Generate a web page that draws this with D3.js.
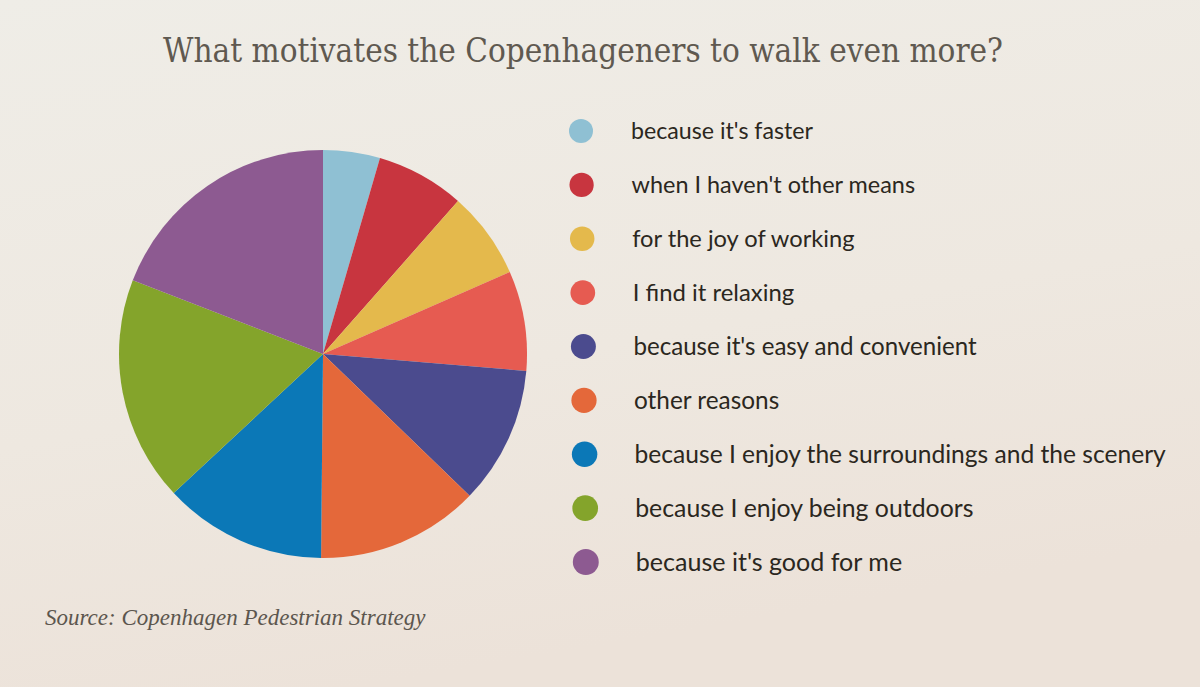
<!DOCTYPE html>
<html>
<head>
<meta charset="utf-8">
<script src="https://cdn.jsdelivr.net/npm/d3@7"></script>
<style>
  html, body { margin: 0; padding: 0; }
  body { width: 1200px; height: 687px; overflow: hidden; }
</style>
</head>
<body>
<svg id="chart" width="1200" height="687"></svg>
<script>
// reasons, in clockwise order starting at 12 o'clock
const reasons = [
  "because it's faster",
  "when I haven't other means",
  "for the joy of working",
  "I find it relaxing",
  "because it's easy and convenient",
  "other reasons",
  "because I enjoy the surroundings and the scenery",
  "because I enjoy being outdoors",
  "because it's good for me"
];

// share in percent
const shares = [4.5, 7.0, 6.9, 7.9, 10.9, 12.9, 12.9, 17.8, 19.1];

const sliceColors = [
  "#8fc0d3", "#c8353f", "#e4b94c", "#e65b51", "#4b4b8e",
  "#e4683a", "#0b78b7", "#84a42b", "#8d5a91"
];

const titleText = "What motivates the Copenhageners to walk even more?";
const sourceText = "Source: Copenhagen Pedestrian Strategy";

const data = reasons.map((r, i) => ({ reason: r, value: shares[i] }));

const svg = d3.select("#chart");

// paper background
const defs = svg.append("defs");
const grad = defs.append("linearGradient")
  .attr("id", "paper")
  .attr("x1", "0").attr("y1", "0")
  .attr("x2", "0.3").attr("y2", "1");
grad.append("stop").attr("offset", "0%").attr("stop-color", "#efede7");
grad.append("stop").attr("offset", "60%").attr("stop-color", "#eee8e0");
grad.append("stop").attr("offset", "100%").attr("stop-color", "#ece2d9");

svg.append("rect")
  .attr("width", 1200).attr("height", 687)
  .attr("fill", "url(#paper)");

// title
svg.append("text")
  .attr("x", 163).attr("y", 62)
  .attr("textLength", 840)
  .attr("lengthAdjust", "spacingAndGlyphs")
  .style("font-family", "'DejaVu Serif', 'Liberation Serif', serif")
  .style("font-size", "33px")
  .style("fill", "#5f5950")
  .text(titleText);

// pie
const radius = 204;
const pie = d3.pie().value(d => d.value).sort(null);
const arc = d3.arc().innerRadius(0).outerRadius(radius);

const color = d3.scaleOrdinal().domain(reasons).range(sliceColors);

const g = svg.append("g").attr("transform", "translate(323,354)");
g.selectAll("path")
  .data(pie(data))
  .join("path")
  .attr("d", arc)
  .attr("fill", d => color(d.data.reason));

// legend (the photo is slightly skewed: lower rows look a bit bigger)
const y = d3.scalePoint()
  .domain(reasons)
  .range([131, 562]);
const grow = d3.scaleLinear().domain([0, reasons.length - 1]).range([1, 1.08]);

const legend = svg.append("g");
const rows = legend.selectAll("g")
  .data(reasons)
  .join("g")
  .attr("transform", (d, i) => `translate(${581 + i * 0.6},${y(d)})`);

rows.append("circle")
  .attr("r", (d, i) => 12 * grow(i))
  .attr("fill", d => color(d));

rows.append("text")
  .attr("x", 50)
  .attr("dy", "0.35em")
  .style("font-family", "Lato, 'Open Sans', sans-serif")
  .style("font-size", (d, i) => `${23.2 * grow(i)}px`)
  .style("fill", "#2b2720")
  .text(d => d);

// source
svg.append("text")
  .attr("x", 45).attr("y", 625)
  .style("font-family", "'Liberation Serif', 'DejaVu Serif', serif")
  .style("font-style", "italic")
  .style("font-size", "23px")
  .style("fill", "#5c564e")
  .text(sourceText);
</script>
</body>
</html>
